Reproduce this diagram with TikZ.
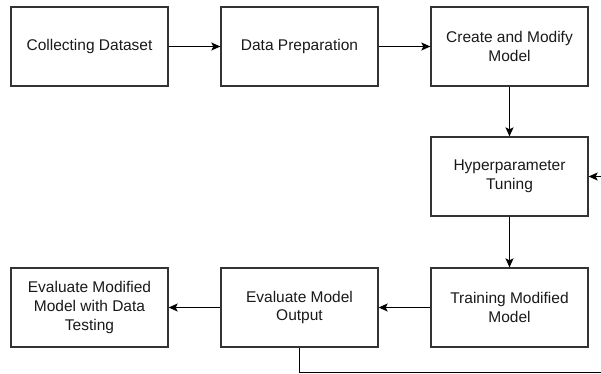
\documentclass[tikz,border=0pt]{standalone}
\usepackage{fontspec}
\setmainfont{Liberation Sans}
\usetikzlibrary{arrows.meta}
\begin{document}
\begin{tikzpicture}[x=1pt,y=-1pt,
  box/.style={draw=black!80,line width=1.3pt,minimum width=157pt,minimum height=79pt,
    align=center,inner sep=2pt,font=\fontsize{15.5}{18.8}\selectfont,text=black!90},
  conn/.style={draw=black,line width=1.3pt,-{Stealth[length=9pt,width=8pt,inset=2pt]}}]
\useasboundingbox (0,0) rectangle (601,373);
\clip (0,0) rectangle (601,373);
\node[box] (a) at (89.5,46.5) {Collecting Dataset};
\node[box] (b) at (299.5,46.5) {Data Preparation};
\node[box] (c) at (509.5,46.5) {Create and Modify\\Model};
\node[box] (d) at (509.5,176.5) {Hyperparameter\\Tuning};
\node[box] (e) at (509.5,307.5) {Training Modified\\Model};
\node[box] (f) at (299.5,307.5) {Evaluate Model\\Output};
\node[box] (g) at (89.5,307.5) {Evaluate Modified\\Model with Data\\Testing};
\draw[conn] (a) -- (b);
\draw[conn] (b) -- (c);
\draw[conn] (c) -- (d);
\draw[conn] (d) -- (e);
\draw[conn] (e) -- (f);
\draw[conn] (f) -- (g);
\coordinate (r) at (625,372.5);
\draw[conn] (f.south) |- (r) |- (d.east);
\end{tikzpicture}
\end{document}
